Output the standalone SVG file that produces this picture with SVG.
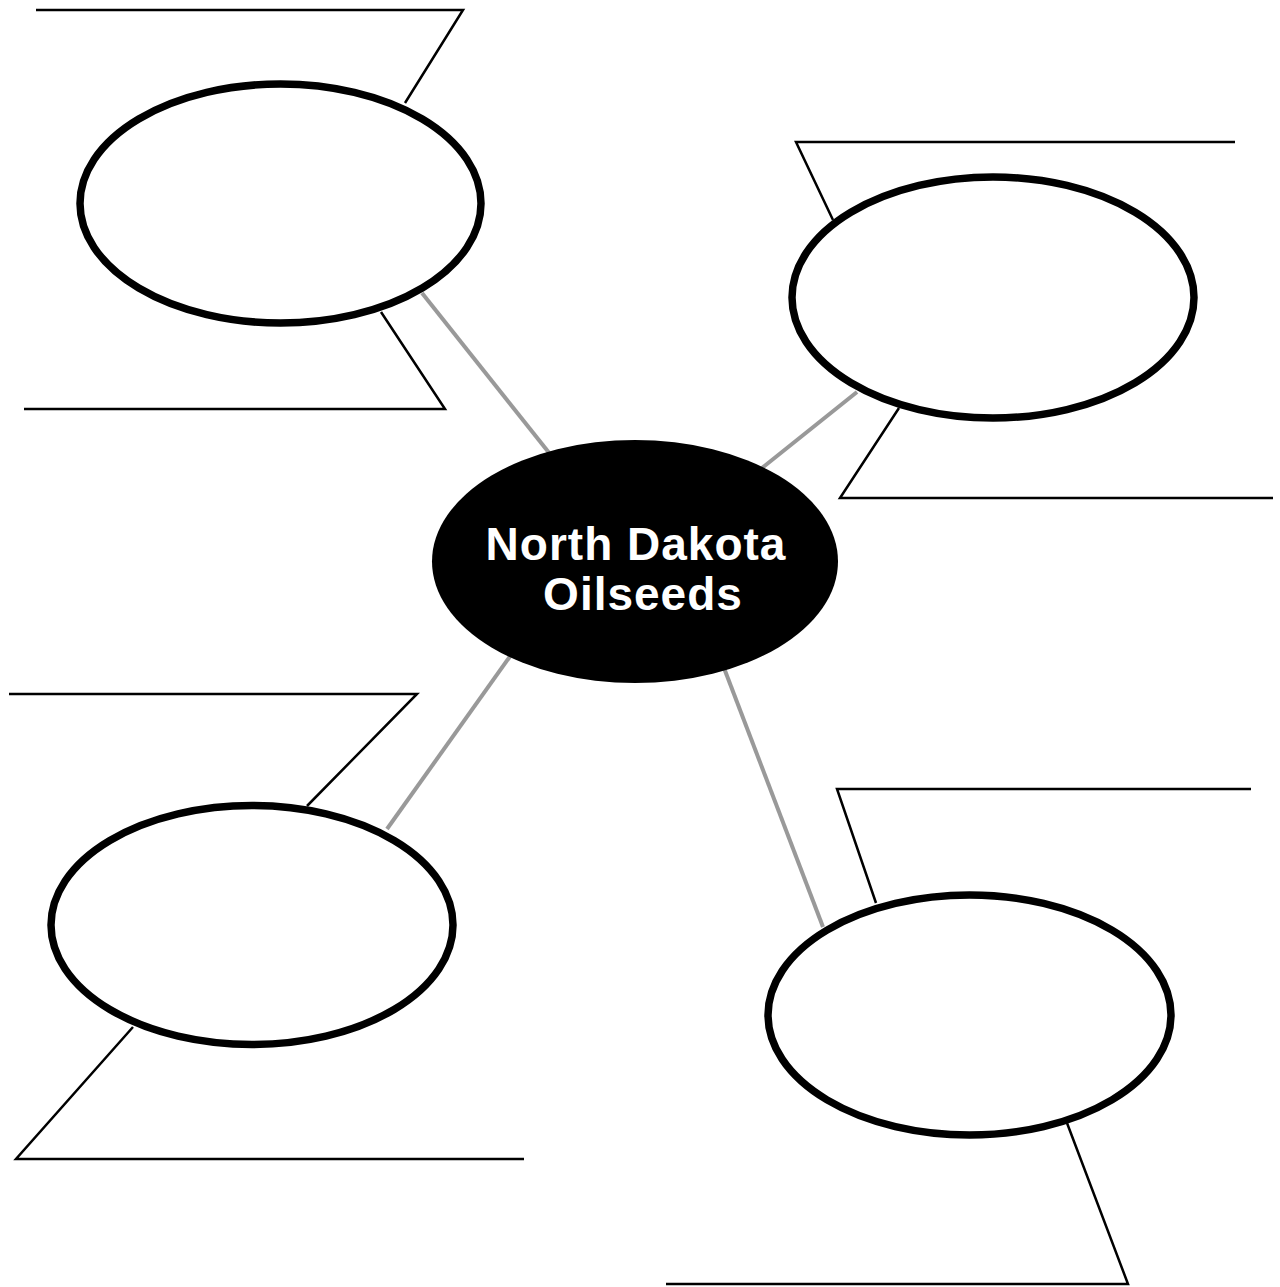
<svg xmlns="http://www.w3.org/2000/svg" width="1280" height="1287" viewBox="0 0 1280 1287">
<style>
.bg{fill:#ffffff}
.conn{stroke:#999999;stroke-width:4;fill:none}
.bracket{stroke:#000000;stroke-width:2.5;fill:none;stroke-linejoin:miter}
.bubble{fill:#ffffff;stroke:#000000;stroke-width:7.5}
.hub{fill:#000000}
.hubtext{fill:#ffffff;font-family:"Liberation Sans",Arial,sans-serif;font-weight:bold;font-size:46px;text-anchor:middle;letter-spacing:1px}
</style>
<rect class="bg" x="0" y="0" width="1280" height="1287"/>
<g id="connectors">
<line class="conn" x1="422" y1="293" x2="550" y2="454"/>
<line class="conn" x1="857" y1="392" x2="762" y2="468"/>
<line class="conn" x1="511" y1="655" x2="387" y2="829"/>
<line class="conn" x1="724" y1="668" x2="823" y2="927"/>
</g>
<g id="node-top-left">
<polyline class="bracket" points="36,10 463,10 405,103"/>
<polyline class="bracket" points="381,312 445,409 24,409"/>
<ellipse class="bubble" cx="280.5" cy="203.5" rx="200.5" ry="119.5"/>
</g>
<g id="node-top-right">
<polyline class="bracket" points="1235,142 796,142 833,220"/>
<polyline class="bracket" points="899,408 840,498 1273,498"/>
<ellipse class="bubble" cx="993" cy="297.5" rx="201" ry="120.5"/>
</g>
<g id="node-bottom-left">
<polyline class="bracket" points="9,694 417,694 307,806"/>
<polyline class="bracket" points="133,1027 16,1159 524,1159"/>
<ellipse class="bubble" cx="252" cy="925" rx="201" ry="119.5"/>
</g>
<g id="node-bottom-right">
<polyline class="bracket" points="1251,789 837,789 876,903"/>
<polyline class="bracket" points="1067,1123 1128,1284 666,1284"/>
<ellipse class="bubble" cx="969.5" cy="1015" rx="201.5" ry="120"/>
</g>
<g id="node-center">
<ellipse class="hub" cx="635" cy="561.5" rx="203" ry="121.5"/>
<text class="hubtext" x="636" y="560">North Dakota</text>
<text class="hubtext" x="643" y="610">Oilseeds</text>
</g>
</svg>
